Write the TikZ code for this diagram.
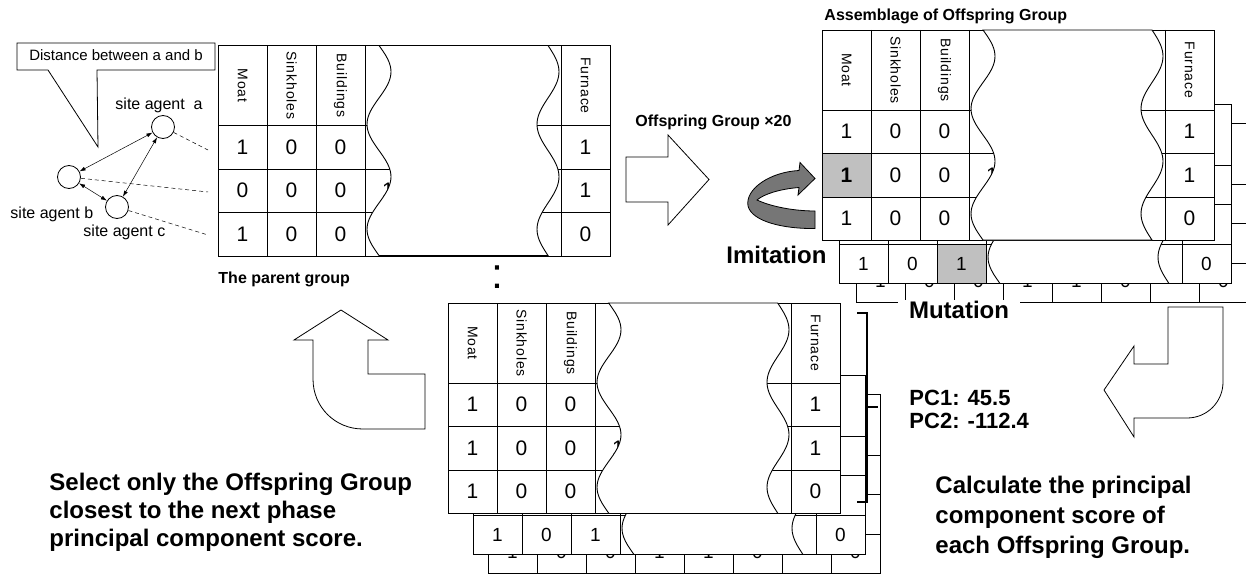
\documentclass[tikz,border=0pt]{standalone}
\usepackage{fontspec}
\setmainfont{Liberation Sans}
\newfontfamily\spacedfont[LetterSpace=6]{Liberation Sans}
\usetikzlibrary{arrows.meta}
\definecolor{cellgray}{RGB}{192,192,192}
\definecolor{ribbongray}{RGB}{118,118,118}
\tikzset{
  hdr/.style={rotate=-90, font=\spacedfont\fontsize{14}{14}\selectfont, inner sep=0pt},
  val/.style={font=\fontsize{21}{21}\selectfont, inner sep=0pt},
  valback/.style={font=\fontsize{19}{19}\selectfont, inner sep=0pt},
  agent/.style={draw, circle, minimum size=23pt, inner sep=0pt, line width=0.8pt},
  link/.style={{Latex[length=6pt,width=4pt]}-{Latex[length=6pt,width=4pt]}, line width=0.5pt},
  view/.style={dash pattern=on 4pt off 3pt, line width=0.5pt},
  agentlbl/.style={font=\fontsize{16}{16}\selectfont, anchor=base west, inner sep=0pt},
  smalltitle/.style={font=\bfseries\fontsize{16}{16}\selectfont, anchor=base west, inner sep=0pt},
  bigtitle/.style={font=\bfseries\fontsize{24}{24}\selectfont, inner sep=0pt},
  blockarrow/.style={draw, fill=white, line width=0.8pt}
}

% table grid: #1,#2 top left, #3 header height, #4 row height
\newcommand{\drawgrid}[4]{
  \filldraw[fill=white] (#1,#2) rectangle (#1+392,#2+#3+3*#4);
  \foreach \c in {1,...,7}
    \draw (#1+\c*49,#2) -- (#1+\c*49,#2+#3+3*#4);
  \foreach \r in {0,1,2}
    \draw (#1,#2+#3+\r*#4) -- (#1+392,#2+#3+\r*#4);
}
% column heads: #1,#2 top left, #3 header height, #4 name
\newcommand{\drawheads}[4]{
  \node[hdr] (#4-moat) at (#1+24.5,#2+#3/2) {Moat};
  \node[hdr] (#4-sink) at (#1+73.5,#2+#3/2) {Sinkholes};
  \node[hdr] (#4-bldg) at (#1+122.5,#2+#3/2) {Buildings};
  \node[hdr] (#4-furn) at (#1+367.5,#2+#3/2) {Furnace};
}
% one row of values: #1 table x, #2 row centre, #3 style, #4 name, #5 first values, #6 furnace
\newcommand{\datarow}[6]{
  \foreach \v [count=\c from 0] in {#5}
    \node[#3] (#4-\c) at (#1+24.5+49*\c,#2) {\v};
  \node[#3] (#4-f) at (#1+367.5,#2) {#6};
}
% white break with wavy edges: #1 table x, #2 top, #3 bottom
\newcommand{\wavecover}[3]{
  \filldraw[fill=white] plot[domain=#2:#3, samples=41, smooth, variable=\t]
      ({#1+161-12*sin(((#3-\t)/105)*360)},\t)
    -- plot[domain=#3:#2, samples=41, smooth, variable=\t]
      ({#1+330-11*sin(((#3-\t)/105)*360)},\t)
    -- cycle;
}

\begin{document}
\begin{tikzpicture}[x=1pt, y=-1pt, line width=0.9pt]
\useasboundingbox (0,0) rectangle (1246,575);

% site agents
\filldraw[fill=white, line width=0.8pt] (17,43) -- (215,43) -- (215,70) -- (97,70) -- (98,147) -- (48,70) -- (17,70) -- cycle;
\node[font=\fontsize{15}{15}\selectfont, anchor=base, inner sep=0pt] (dist) at (116,61) {Distance between a and b};
\node[agent] (sa) at (163,127) {};
\node[agent] (sb) at (69,177) {};
\node[agent] (sc) at (117,207) {};
\node[agentlbl] (la) at (115,110) {site agent~ a};
\node[agentlbl] (lb) at (10,218) {site agent b};
\node[agentlbl] (lc) at (83,236) {site agent c};
\draw[link] (sb) -- (sa);
\draw[link] (sc) -- (sa);
\draw[link] (sb) -- (sc);
\coordinate (va) at (208,150);
\coordinate (vb) at (208,192);
\coordinate (vc) at (208,235);
\draw[view] (sa) -- (va);
\draw[view] (sb) -- (vb);
\draw[view] (sc) -- (vc);

% parent group
\drawgrid{218}{45.5}{80}{43.5}
\drawheads{218}{45.5}{80}{par}
\datarow{218}{147.25}{val}{par1}{1,0,0}{1}
\datarow{218}{190.75}{val}{par2}{0,0,0}{1}
\datarow{218}{234.25}{val}{par3}{1,0,0}{0}
\node[val] (par2-3) at (388,190.75) {1};
\wavecover{218}{45.5}{255.5}
\node[smalltitle] (parlbl) at (218,283) {The parent group};
\node[font=\fontsize{43}{43}\selectfont, anchor=base, inner sep=0pt] (dots) at (497,288) {:};

% arrow to offspring
\draw[blockarrow] (626,157) -- (668,157) -- (668,135) -- (709,179.5) -- (668,225) -- (668,202) -- (626,202) -- cycle;
\node[smalltitle] (offlbl) at (635,126.5) {Offspring Group ×20};

% assemblage of offspring group
\drawgrid{856}{123}{61}{39.5}
\datarow{856}{280.5}{valback}{bk2}{1,0,0,1,1,0}{0}
\drawgrid{839}{104}{61}{39.5}
\filldraw[fill=cellgray] (937,244) rectangle ++(49,39.5);
\datarow{839}{263.75}{valback}{bk1}{1,0,1}{0}
\wavecover{839}{104}{283.5}
\drawgrid{822}{30}{80}{43.5}
\drawheads{822}{30}{80}{asm}
\filldraw[fill=cellgray] (822,153.5) rectangle ++(49,43.5);
\datarow{822}{131.75}{val}{asm1}{1,0,0}{1}
\datarow{822}{175.25}{val}{asm2}{\textbf{1},0,0}{1}
\datarow{822}{218.75}{val}{asm3}{1,0,0}{0}
\node[val] (asm2-3) at (992,175.25) {1};
\wavecover{822}{30}{240}
\node[smalltitle] (asmlbl) at (824,20.5) {Assemblage of Offspring Group};

% imitation ribbon
\filldraw[fill=ribbongray, line width=0.8pt] (799,170.5) -- (800,162.5) -- (815,178.5) -- (798,195) -- (799,187.5)
  .. controls (780,189) and (764,194) .. (757,200)
  .. controls (772,207) and (795,211) .. (815,211)
  -- (815,228.5)
  .. controls (785,229) and (752,222) .. (748,206)
  .. controls (745,189) and (770,172) .. (799,170.5) -- cycle;
\node[bigtitle, anchor=west] (imit) at (726,255) {Imitation};
\node[bigtitle, fill=white, inner xsep=11pt, inner ysep=1.5pt] (mut) at (959,310) {Mutation};

% scores
\draw[blockarrow] (1104,390) -- (1134,346) -- (1134,364) -- (1168,364) -- (1168,307) -- (1223,307) -- (1223,382)
  .. controls (1223,402) and (1207,418) .. (1187,418) -- (1134,418) -- (1134,437) -- cycle;
\node[font=\bfseries\fontsize{22}{23}\selectfont, align=left, anchor=west, inner sep=0pt] (pc) at (909,409) {PC1: 45.5\\PC2: -112.4};
\node[font=\bfseries\fontsize{24}{30}\selectfont, align=left, anchor=west, inner sep=0pt] (calc) at (935,517) {Calculate the principal\\component score of\\each Offspring Group.};

% selected group
\drawgrid{488}{394}{61}{39.5}
\datarow{488}{551.5}{valback}{sel2}{1,0,0,1,1,0}{0}
\drawgrid{473}{375}{61}{39.5}
\datarow{473}{534.75}{valback}{sel1}{1,0,1}{0}
\wavecover{473}{375}{554.5}
\drawgrid{448}{303}{80}{43.5}
\drawheads{448}{303}{80}{sel}
\datarow{448}{404.75}{val}{sela}{1,0,0}{1}
\datarow{448}{448.25}{val}{selb}{1,0,0}{1}
\datarow{448}{491.75}{val}{selc}{1,0,0}{0}
\node[val] (selb-3) at (618,448.25) {1};
\wavecover{448}{303}{513.5}
\draw[line width=2.5pt] (857,313) -- (867,313) -- (867,502) -- (857,502);
\draw[line width=2.5pt] (867,407) -- (878,407);

% back to parent
\draw[blockarrow] (341,310) -- (388,340) -- (368,340) -- (368,374) -- (425,374) -- (425,429) -- (363,429)
  .. controls (335,429) and (313,407) .. (313,379) -- (313,340) -- (294,340) -- cycle;
\node[font=\bfseries\fontsize{24}{28}\selectfont, align=left, anchor=west, inner sep=0pt] (select) at (49,512) {Select only the Offspring Group\\closest to the next phase\\principal component score.};

\end{tikzpicture}
\end{document}
